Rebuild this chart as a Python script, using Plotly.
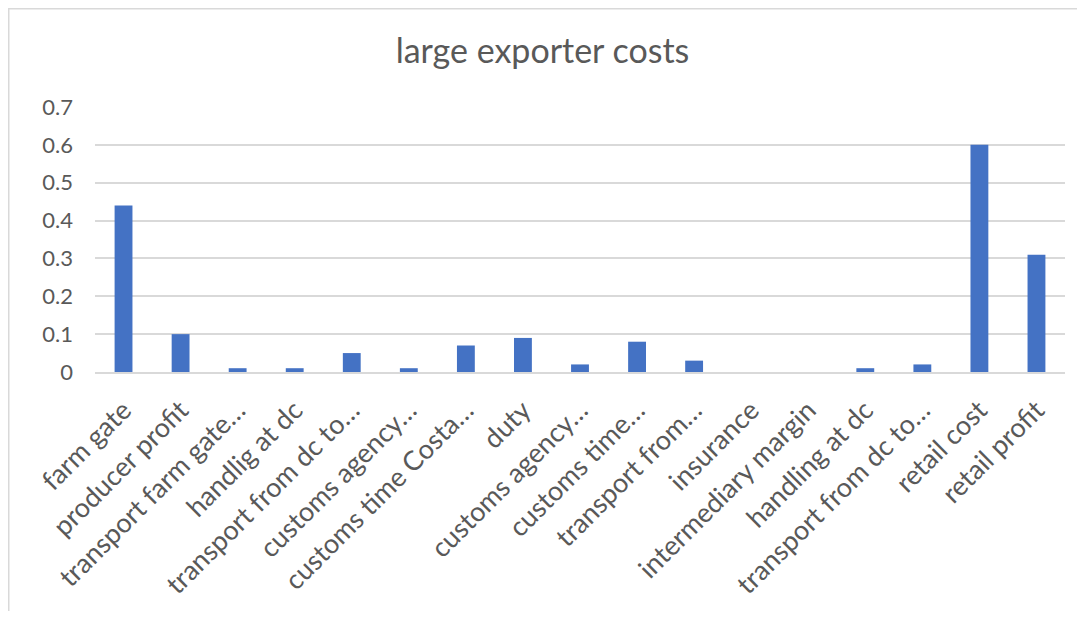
import plotly.graph_objects as go

categories = ["farm gate", "producer profit", "transport farm gate…", "handlig at dc",
              "transport from dc to…", "customs agency…", "customs time Costa…", "duty",
              "customs agency…", "customs time…", "transport from…", "insurance",
              "intermediary margin", "handling at dc", "transport from dc to…",
              "retail cost", "retail profit"]
values = [0.44, 0.10, 0.01, 0.01, 0.05, 0.01, 0.07, 0.09, 0.02, 0.08, 0.03,
          0.0, 0.0, 0.01, 0.02, 0.60, 0.31]
y_ticks = [0, 0.1, 0.2, 0.3, 0.4, 0.5, 0.6, 0.7]
y_ticktext = ["0", "0.1", "0.2", "0.3", "0.4", "0.5", "0.6", "0.7"]

x = list(range(len(categories)))

fig = go.Figure(go.Bar(x=x, y=values, marker=dict(color="#4472C4", line=dict(width=0))))

# page has an 8px body margin; figure origin is at screen (8, 8)
OFF = 8
W, H = 1085 - 2 * OFF, 619 - 2 * OFF
L, R, T = 95 - OFF, (1085 - OFF) - 1065, 107 - OFF
B = H - (372 - OFF)
pw, ph = W - L - R, H - T - B

def px_to_paper_x(p):
    return (p - L) / pw

def px_to_paper_y(p):
    return (H - B - p) / ph

font = "Lato, 'Open Sans', sans-serif"
fig.update_layout(
    width=W, height=H,
    margin=dict(l=L, r=R, t=T, b=B, autoexpand=False),
    paper_bgcolor="white", plot_bgcolor="white",
    bargap=0.687,
    showlegend=False,
    title=dict(text="large exporter costs", x=0.5, xanchor="center", y=1 - (51 - OFF) / H, yanchor="middle",
               font=dict(family=font, size=34, color="#595959")),
    xaxis=dict(tickmode="array", tickvals=x, ticktext=categories, tickangle=-45,
               range=[-0.5, len(categories) - 0.5],
               tickfont=dict(family=font, size=27, color="#595959"),
               showgrid=False, showline=True, linecolor="#D9D9D9", linewidth=1.5,
               ticks="", ticklabelstandoff=10),
    yaxis=dict(range=[0, 0.7], tickmode="array", tickvals=y_ticks, ticktext=y_ticktext,
               tickfont=dict(family=font, size=22, color="#595959"),
               showgrid=True, gridcolor="#D9D9D9", gridwidth=1.5, zeroline=False,
               ticks="", ticklabelstandoff=21),
    shapes=[
        dict(type="line", xref="paper", yref="paper",
             x0=px_to_paper_x(0), x1=px_to_paper_x(W + 5), y0=px_to_paper_y(0.75), y1=px_to_paper_y(0.75),
             line=dict(color="#D9D9D9", width=1.5)),
        dict(type="line", xref="paper", yref="paper",
             x0=px_to_paper_x(0.75), x1=px_to_paper_x(0.75), y0=px_to_paper_y(0.75), y1=px_to_paper_y(H + 5),
             line=dict(color="#D9D9D9", width=1.5)),
    ],
)

fig.write_html("out.html")
